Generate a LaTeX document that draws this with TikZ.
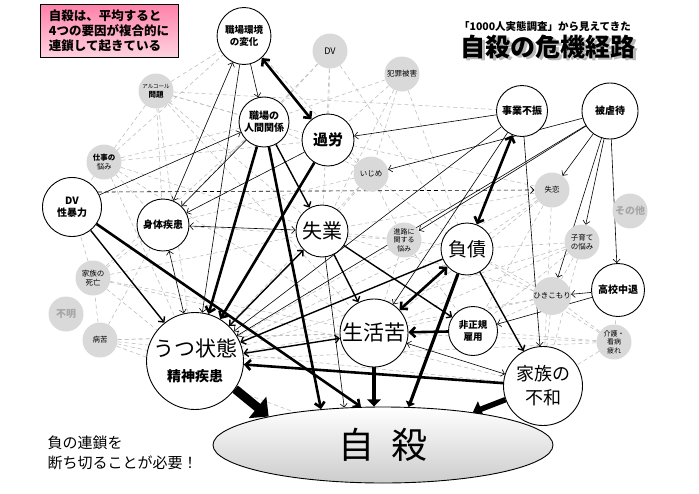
\documentclass[tikz,border=0pt]{standalone}
\usepackage{fontspec}
\setmainfont{Noto Sans CJK JP}
\usetikzlibrary{arrows.meta,positioning,shapes.geometric}
\definecolor{WebGray}{HTML}{BFBFBF}
\definecolor{BallGray}{HTML}{D9D9D9}
\definecolor{FadeText}{HTML}{A6A6A6}
\definecolor{PinkTop}{HTML}{FF82A9}
\definecolor{PinkBot}{HTML}{FFD3E0}
\pgfdeclarelayer{back}
\pgfsetlayers{back,main}

\tikzset{
  cause/.style={circle,draw,line width=0.9pt,fill=white,inner sep=0pt,align=center,
    font=\bfseries\fontsize{10}{12}\selectfont},
  side/.style={circle,fill=BallGray,inner sep=0pt,minimum size=35pt,align=center,
    font=\fontsize{7.5}{9}\selectfont},
  web/.style={WebGray,line width=0.6pt,dash pattern=on 4pt off 3pt},
  linkthin/.style={-{Straight Barb[length=3.5pt,width=7pt]},line width=0.6pt},
  linkthinb/.style={{Straight Barb[length=3.5pt,width=7pt]}-{Straight Barb[length=3.5pt,width=7pt]},line width=0.6pt},
  linkmid/.style={-{Straight Barb[length=4pt,width=8pt]},line width=1.4pt},
  linkmidb/.style={{Straight Barb[length=4pt,width=8pt]}-{Straight Barb[length=4pt,width=8pt]},line width=1.4pt},
  linkheavy/.style={-{Straight Barb[length=5pt,width=10pt]},line width=2.6pt},
  linkheavyb/.style={{Straight Barb[length=5pt,width=10pt]}-{Straight Barb[length=5pt,width=10pt]},line width=2.6pt},
  linkpush/.style={-{Triangle[length=#1*1.6pt,width=#1*3pt]},line width=#1 pt},
}
\newcommand{\shadowed}[1]{\makebox[0pt][l]{\hspace{2.5pt}\raisebox{-2.5pt}{\textcolor{gray!55}{#1}}}#1}

\begin{document}
\begin{tikzpicture}[x=1pt,y=-1pt]
  \useasboundingbox (0,0) rectangle (699,493);

  % main causes
  \node[cause,ellipse,minimum width=48pt,minimum height=57pt,font=\bfseries\fontsize{9.5}{11.5}\selectfont] (envch) at (244,36) {職場環境\\の変化};
  \node[cause,minimum size=50pt] (relat) at (264,122) {職場の\\人間関係};
  \node[cause,minimum size=52pt,font=\bfseries\fontsize{15}{17}\selectfont] (overw) at (328,140) {過労};
  \node[cause,minimum size=59pt] (dvsex) at (72,207) {DV\\性暴力};
  \node[cause,minimum size=52pt] (body) at (163,225) {身体疾患};
  \node[cause,minimum size=52pt,font=\fontsize{20}{22}\selectfont] (jobless) at (322,231) {失業};
  \node[cause,minimum size=52pt,font=\fontsize{19}{21}\selectfont] (debt) at (467,249) {負債};
  \node[cause,minimum size=51pt] (bizfail) at (522,111) {事業不振};
  \node[cause,minimum size=56pt] (abuse) at (610,111) {被虐待};
  \node[cause,minimum size=53pt] (dropout) at (618,290) {高校中退};
  \node[cause,minimum size=49pt,font=\bfseries\fontsize{9.5}{11.5}\selectfont] (irreg) at (473,331) {非正規\\雇用};
  \node[cause,minimum size=68pt,font=\fontsize{21}{23}\selectfont] (hard) at (374,333) {生活苦};
  \node[cause,minimum size=79pt,font=\fontsize{18}{24}\selectfont] (family) at (543,386) {家族の\\不和};
  \node[cause,minimum size=97pt,font=\fontsize{21}{25}\selectfont] (depr) at (195,361) {うつ状態\\{\bfseries\fontsize{14}{16}\selectfont 精神疾患}};
  \node[ellipse,draw,line width=0.9pt,top color=white,bottom color=gray!40,minimum width=340pt,minimum height=76pt,
    font=\fontsize{36}{40}\selectfont] (suicide) at (383,445) {自\hspace{0.45em}殺};

  % other factors
  \node[side] (alcohol) at (156,91) {{\fontsize{5.5}{6}\selectfont アルコール}\\{\bfseries 問題}};
  \node[side,font=\fontsize{9}{10}\selectfont] (dvgrey) at (330,51) {DV};
  \node[side] (crime) at (402,74) {犯罪被害};
  \node[side] (worry) at (104,162) {{\bfseries 仕事の}\\悩み};
  \node[side] (bully) at (371,174) {いじめ};
  \node[side,font=\fontsize{7}{8.5}\selectfont] (career) at (404,240) {進路に\\関する\\悩み};
  \node[side] (heartbr) at (552,190) {失恋};
  \node[side,text=FadeText,font=\bfseries\fontsize{10}{11}\selectfont] (other) at (630,211) {その他};
  \node[side] (parent) at (582,242) {子育て\\の悩み};
  \node[side] (recluse) at (552,296) {ひきこもり};
  \node[side,font=\fontsize{7}{8.5}\selectfont] (care) at (614,342) {介護・\\看病\\疲れ};
  \node[side] (bereave) at (93,278) {家族の\\死亡};
  \node[side,text=FadeText,font=\bfseries\fontsize{10}{11}\selectfont] (unknown) at (66,314) {不明};
  \node[side] (sick) at (100,340) {病苦};

  % texts
  \node[draw,line width=0.8pt,top color=PinkTop,bottom color=PinkBot,minimum width=138pt,minimum height=53pt,
    align=left,inner sep=3pt,font=\bfseries\fontsize{12.5}{15}\selectfont] (memo) at (109,31)
    {自殺は、平均すると\\4つの要因が複合的に\\連鎖して起きている};
  \node[font=\bfseries\fontsize{10.5}{12}\selectfont] (subttl) at (545,27) {「1000人実態調査」から見えてきた};
  \node[font=\bfseries\fontsize{25}{28}\selectfont] (ttl) at (548,48) {\shadowed{自殺の危機経路}};
  \node[anchor=west,align=left,font=\fontsize{15}{20}\selectfont] (motto) at (44,453) {負の連鎖を\\断ち切ることが必要！};

  \begin{pgfonlayer}{back}
    % grey web
    \foreach \a/\b in {alcohol/envch,alcohol/relat,alcohol/overw,alcohol/bizfail,alcohol/body,alcohol/jobless,
      alcohol/depr,alcohol/worry,alcohol/hard,dvgrey/relat,dvgrey/overw,dvgrey/jobless,dvgrey/body,dvgrey/debt,
      crime/overw,crime/jobless,crime/bully,crime/debt,crime/relat,worry/envch,worry/relat,worry/overw,worry/body,
      worry/depr,worry/jobless,worry/dvsex,worry/hard,bully/relat,bully/jobless,bully/overw,bully/depr,bully/debt,
      bully/career,bully/body,bully/envch,career/jobless,career/debt,career/hard,career/depr,career/irreg,career/body,
      heartbr/debt,heartbr/jobless,heartbr/hard,heartbr/depr,heartbr/family,heartbr/irreg,heartbr/overw,
      parent/family,parent/hard,parent/debt,parent/irreg,parent/depr,parent/recluse,recluse/family,recluse/irreg,
      recluse/hard,recluse/debt,recluse/jobless,recluse/depr,care/family,care/hard,care/irreg,care/recluse,
      care/dropout,care/debt,care/depr,bereave/depr,bereave/body,bereave/hard,bereave/jobless,bereave/dvsex,
      bereave/family,bereave/relat,sick/depr,sick/hard,sick/family,sick/body,sick/irreg,sick/bereave,sick/suicide}
      \draw[web] (\a) -- (\b);

    % thin links
    \draw[linkthinb] (body) -- (envch);
    \draw[linkthin] (envch) -- (relat);
    \draw[linkthin] (envch) -- (depr);
    \draw[linkthin] (dvsex) -- (relat);
    \draw[linkthin] (relat) -- (body);
    \draw[linkthin] (overw) -- (body);
    \draw[linkthinb] (body) -- (jobless);
    \draw[linkthinb] (body) -- (depr);
    \draw[linkthin] (bizfail) -- (overw);
    \draw[linkthin] (bizfail) -- (depr);
    \draw[linkthin] (bizfail) -- (hard);
    \draw[linkthin] (bizfail) -- (family);
    \draw[linkthin] (abuse) -- (bully);
    \draw[linkthin] (abuse) -- (heartbr);
    \draw[linkthin] (abuse) -- (parent);
    \draw[linkthin] (abuse) -- (recluse);
    \draw[linkthin] (abuse) -- (dropout);
    \draw[linkthin] (abuse) -- (career);
    \draw[linkthin] (abuse) -- (depr);
    \draw[linkthin] (dropout) -- (recluse);
    \draw[linkthin] (dropout) -- (irreg);
    \draw[linkthinb] (hard) -- (family);
    \draw[linkthin] (jobless) -- (suicide.136);
    \draw[linkthin,dash pattern=on 4pt off 3pt] (dvsex.30) -- (heartbr.west);

    % medium links
    \draw[linkmid] (relat) -- (jobless);
    \draw[linkmid] (jobless) -- (hard);
    \draw[linkmid] (jobless) -- (irreg);
    \draw[linkmidb] (jobless) -- (depr);
    \draw[linkmid] (dvsex) -- (depr);
    \draw[linkmid] (debt) -- (family);
    \draw[linkmid] (debt) -- (depr);
    \draw[linkmidb] (hard) -- (depr);

    % heavy links
    \draw[linkheavyb] (envch) -- (overw);
    \draw[linkheavy] (relat) -- (depr);
    \draw[linkheavy] (overw) -- (depr);
    \draw[linkheavyb] (bizfail) -- (debt);
    \draw[linkheavyb] (debt) -- (hard);
    \draw[linkheavy] (irreg) -- (hard);
    \draw[linkheavy] (family) -- (depr);
    \draw[linkheavy] (dvsex) -- (suicide.120);
    \draw[linkheavy] (relat) -- (suicide.150);

    % into suicide
    \draw[linkpush=3.2] (debt.-110) -- (suicide.56);
    \draw[linkpush=4.5] (hard.south) -- (suicide.north -| hard.south);
    \draw[linkpush=5.5] (family.200) -- (suicide.20);
    \draw[linkpush=9] (depr.-35) -- (suicide.166);
  \end{pgfonlayer}
\end{tikzpicture}
\end{document}
